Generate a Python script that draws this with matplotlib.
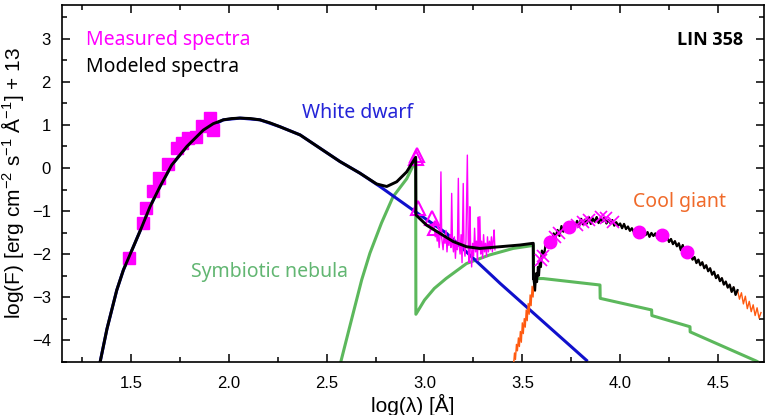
import numpy as np
import matplotlib
matplotlib.use('Agg')
import matplotlib.pyplot as plt
from matplotlib.ticker import MultipleLocator

plt.rcParams['font.family'] = ['Liberation Sans', 'DejaVu Sans']
plt.rcParams['mathtext.default'] = 'regular'

# total model (white dwarf + nebula), smooth part
model_x = [1.342, 1.377, 1.427, 1.461, 1.512, 1.555, 1.597, 1.648, 1.708, 1.785, 1.869, 1.920, 1.972,
           2.015, 2.057, 2.110, 2.159, 2.210, 2.261, 2.364, 2.466, 2.568, 2.670, 2.755, 2.807, 2.858,
           2.909, 2.955, 2.956, 3.011, 3.079, 3.147, 3.215, 3.283, 3.386, 3.488, 3.556, 3.557]
model_y = [-4.51, -3.74, -2.84, -2.37, -1.83, -1.37, -0.90, -0.43, 0.07, 0.50, 0.88, 1.03, 1.12,
           1.15, 1.16, 1.15, 1.12, 1.05, 0.96, 0.77, 0.46, 0.15, -0.12, -0.37, -0.43, -0.32,
           -0.09, 0.25, -1.09, -1.33, -1.52, -1.71, -1.83, -1.87, -1.83, -1.79, -1.75, -2.57]

# white dwarf
wd_x = [1.342, 1.377, 1.427, 1.461, 1.512, 1.555, 1.597, 1.648, 1.708, 1.785, 1.869, 1.972,
        2.057, 2.159, 2.261, 2.364, 2.466, 2.568, 2.670, 2.772, 2.942, 3.113, 3.351, 3.386, 3.828]
wd_y = [-4.51, -3.74, -2.84, -2.37, -1.83, -1.37, -0.90, -0.43, 0.07, 0.50, 0.88, 1.12,
        1.16, 1.12, 0.96, 0.77, 0.46, 0.15, -0.12, -0.43, -0.98, -1.52, -2.53, -2.68, -4.47]

# symbiotic nebula
neb_x = [2.572, 2.620, 2.679, 2.721, 2.780, 2.839, 2.909, 2.955, 2.956, 3.000, 3.050, 3.110,
         3.215, 3.334, 3.453, 3.556, 3.557, 3.607, 3.897, 3.898, 4.161, 4.162, 4.357, 4.358,
         4.697, 4.720]
neb_y = [-4.51, -3.65, -2.60, -1.98, -1.28, -0.67, -0.25, 0.18, -3.40, -3.07, -2.80, -2.57,
         -2.22, -2.02, -1.87, -1.80, -2.57, -2.57, -2.72, -3.03, -3.30, -3.43, -3.69, -3.81,
         -4.49, -4.55]

# cool giant spectrum (total model follows it above 3.565)
giant_x = [3.455, 3.460, 3.465, 3.470, 3.475, 3.480, 3.485, 3.490, 3.495, 3.500, 3.505, 3.510,
           3.515, 3.520, 3.525, 3.530, 3.535, 3.540, 3.545, 3.550, 3.555, 3.560, 3.565, 3.570,
           3.575, 3.580, 3.585, 3.590, 3.595,
           3.60, 3.61, 3.62, 3.63, 3.64, 3.65, 3.66, 3.67, 3.68, 3.69, 3.70, 3.71, 3.72, 3.73,
           3.74, 3.75, 3.76, 3.77, 3.78, 3.79, 3.80, 3.81, 3.82, 3.83, 3.84, 3.85, 3.86, 3.87,
           3.88, 3.89, 3.90, 3.91, 3.92, 3.93, 3.94, 3.95, 3.96, 3.97, 3.98, 3.99, 4.00, 4.01,
           4.02, 4.03, 4.04, 4.05, 4.06, 4.07, 4.08, 4.09, 4.10, 4.11, 4.12, 4.13, 4.14, 4.15,
           4.16, 4.17, 4.18, 4.19, 4.20, 4.21, 4.22, 4.23, 4.24, 4.25, 4.26, 4.27, 4.28, 4.29,
           4.30, 4.31, 4.32, 4.33, 4.34, 4.35, 4.36, 4.37, 4.38, 4.39, 4.40, 4.41, 4.42, 4.43,
           4.44, 4.45, 4.46, 4.47, 4.48, 4.49, 4.50, 4.51, 4.52, 4.53, 4.54, 4.55, 4.56, 4.57,
           4.58, 4.59, 4.60, 4.61, 4.62, 4.63, 4.64, 4.65, 4.66, 4.67, 4.68, 4.69, 4.70, 4.71,
           4.72]
giant_y = [-4.60, -4.30, -4.45, -4.10, -4.25, -3.95, -4.15, -3.80, -4.05, -3.60, -3.85, -3.50,
           -3.70, -3.30, -3.55, -3.15, -3.40, -2.95, -3.20, -2.75, -3.00, -2.60, -2.85, -2.45,
           -2.65, -2.30, -2.50, -2.15, -2.30,
           -1.92, -2.04, -1.76, -1.84, -1.60, -1.76, -1.52, -1.61, -1.44, -1.58, -1.35, -1.48,
           -1.36, -1.44, -1.27, -1.43, -1.27, -1.35, -1.23, -1.36, -1.18, -1.31, -1.20, -1.29,
           -1.14, -1.30, -1.17, -1.25, -1.14, -1.28, -1.18, -1.25, -1.15, -1.29, -1.21, -1.28,
           -1.21, -1.34, -1.26, -1.34, -1.29, -1.40, -1.30, -1.42, -1.36, -1.46, -1.40, -1.49,
           -1.41, -1.54, -1.45, -1.53, -1.47, -1.56, -1.49, -1.60, -1.51, -1.58, -1.52, -1.62,
           -1.51, -1.64, -1.55, -1.66, -1.59, -1.72, -1.65, -1.77, -1.70, -1.82, -1.75, -1.91,
           -1.79, -1.96, -1.89, -2.04, -1.98, -2.13, -2.07, -2.21, -2.13, -2.26, -2.19, -2.33,
           -2.26, -2.40, -2.33, -2.48, -2.41, -2.56, -2.49, -2.63, -2.56, -2.71, -2.64, -2.78,
           -2.71, -2.88, -2.77, -2.95, -2.84, -3.05, -2.90, -3.16, -2.98, -3.27, -3.10, -3.34,
           -3.18, -3.43, -3.25, -3.49, -3.36]

# measured UV spectrum
uv_x = [3.040, 3.045, 3.050, 3.055, 3.060, 3.065, 3.070, 3.075, 3.080, 3.084, 3.088, 3.095,
        3.100, 3.105, 3.110, 3.115, 3.120, 3.125, 3.130, 3.135, 3.139, 3.143, 3.148, 3.153,
        3.158, 3.163, 3.168, 3.173, 3.177, 3.182, 3.187, 3.192, 3.198, 3.202, 3.207, 3.212,
        3.219, 3.224, 3.228, 3.232, 3.236, 3.241, 3.246, 3.251, 3.256, 3.261, 3.266, 3.271,
        3.275, 3.279, 3.283, 3.287, 3.292, 3.297, 3.302, 3.307, 3.312, 3.317, 3.322, 3.327,
        3.332, 3.337, 3.342, 3.347, 3.352, 3.356, 3.360]
uv_y = [-1.30, -1.45, -1.38, -1.60, -1.48, -1.70, -1.52, -1.85, -1.55, -0.09, -1.62, -1.90,
        -1.58, -1.75, -1.45, -1.95, -1.62, -1.80, -1.55, -1.85, -0.59, -1.70, -1.95, -1.60,
        -2.10, -1.70, -1.90, -0.24, -1.80, -2.00, -1.55, -2.20, -0.36, -1.85, -2.05, -1.70,
        0.30, -1.90, -2.20, -0.90, -1.85, -2.30, -1.75, -2.05, -1.40, -1.95, -1.70, -2.15,
        -1.14, -1.90, -1.13, -2.00, -1.70, -2.10, -1.55, -1.95, -1.75, -2.05, -1.60, -1.95,
        -1.70, -1.90, -1.60, -1.95, -1.65, -1.44, -1.90]

# photometry
sq_x = [1.491, 1.563, 1.577, 1.614, 1.645, 1.691, 1.734, 1.759, 1.793, 1.832, 1.861, 1.904, 1.921]
sq_y = [-2.09, -1.29, -0.94, -0.53, -0.24, 0.09, 0.46, 0.59, 0.69, 0.73, 0.98, 1.16, 0.88]
tri_x = [2.963, 2.958, 2.968, 3.036, 3.053]
tri_y = [0.30, 0.24, -0.94, -1.17, -1.40]
circ_x = [3.641, 3.738, 4.097, 4.215, 4.344]
circ_y = [-1.71, -1.38, -1.48, -1.56, -1.95]
cross_x = [3.595, 3.607, 3.665, 3.690, 3.780, 3.810, 3.840, 3.900, 3.930, 3.965]
cross_y = [-2.15, -2.05, -1.60, -1.50, -1.33, -1.25, -1.22, -1.13, -1.17, -1.25]

magenta = '#ff00ff'
fig = plt.figure(figsize=(7.67, 4.15), dpi=100)
ax = fig.add_axes([0.0808, 0.1277, 0.9152, 0.8603])

ax.plot(neb_x, neb_y, color='#5cb85c', lw=2.2, zorder=2)
ax.plot(wd_x, wd_y, color='#1010cc', lw=2.2, zorder=2)
ax.plot(giant_x, giant_y, color='#ff5a10', lw=1.0, zorder=3)
ax.plot(uv_x, uv_y, color=magenta, lw=1.0, zorder=3)
ax.plot(sq_x, sq_y, 's', color=magenta, ms=8.5, zorder=3)
ax.plot(tri_x, tri_y, '^', mfc='none', mec=magenta, ms=10, mew=1.5, zorder=3)

gx = np.array(giant_x)
gy = np.array(giant_y)
sel = (gx >= 3.565) & (gx <= 4.60)
ax.plot(model_x, model_y, color='black', lw=2.1, zorder=4, solid_joinstyle='round')
ax.plot(np.r_[model_x[-1], gx[sel]], np.r_[model_y[-1], gy[sel]], color='black', lw=1.6, zorder=4)
ax.plot(circ_x, circ_y, 'o', color=magenta, ms=9, zorder=5)
ax.plot(cross_x, cross_y, 'x', color=magenta, ms=9, mew=1.2, zorder=5)

ax.set_xlim(1.147, 4.735)
ax.set_ylim(-4.51, 3.79)
ax.xaxis.set_major_locator(MultipleLocator(0.5))
ax.xaxis.set_minor_locator(MultipleLocator(0.25))
ax.yaxis.set_major_locator(MultipleLocator(1))
ax.yaxis.set_minor_locator(MultipleLocator(0.5))
ax.tick_params(which='both', direction='in', top=True, right=True, width=1.1, labelsize=12)
ax.tick_params(which='major', length=6)
ax.tick_params(which='minor', length=3.5)
ax.tick_params(axis='x', pad=10)
ax.tick_params(axis='y', pad=8)
for s in ax.spines.values():
    s.set_linewidth(1.2)

ax.set_xlabel('log(λ) [Å]', fontsize=15, labelpad=2)
ax.set_ylabel('log(F) [erg cm$^{-2}$ s$^{-1}$ Å$^{-1}$] + 13', fontsize=15, labelpad=4)

tf = ['Noto Sans', 'DejaVu Sans']
ax.text(1.27, 2.98, 'Measured spectra', color=magenta, fontsize=14, family=tf, ha='left', va='center')
ax.text(1.27, 2.35, 'Modeled spectra', color='black', fontsize=14, family=tf, ha='left', va='center')
ax.text(4.627, 2.98, 'LIN 358', color='black', fontsize=13, family=['Open Sans', 'DejaVu Sans'],
        weight='bold', ha='right', va='center')
ax.text(2.657, 1.28, 'White dwarf', color='#2424d8', fontsize=14, family=tf, ha='center', va='center')
ax.text(2.208, -2.42, 'Symbiotic nebula', color='#62b672', fontsize=14, family=tf, ha='center', va='center')
ax.text(4.305, -0.79, 'Cool giant', color='#f06a2a', fontsize=14, family=tf, ha='center', va='center')

fig.savefig('out.png', dpi=100)
